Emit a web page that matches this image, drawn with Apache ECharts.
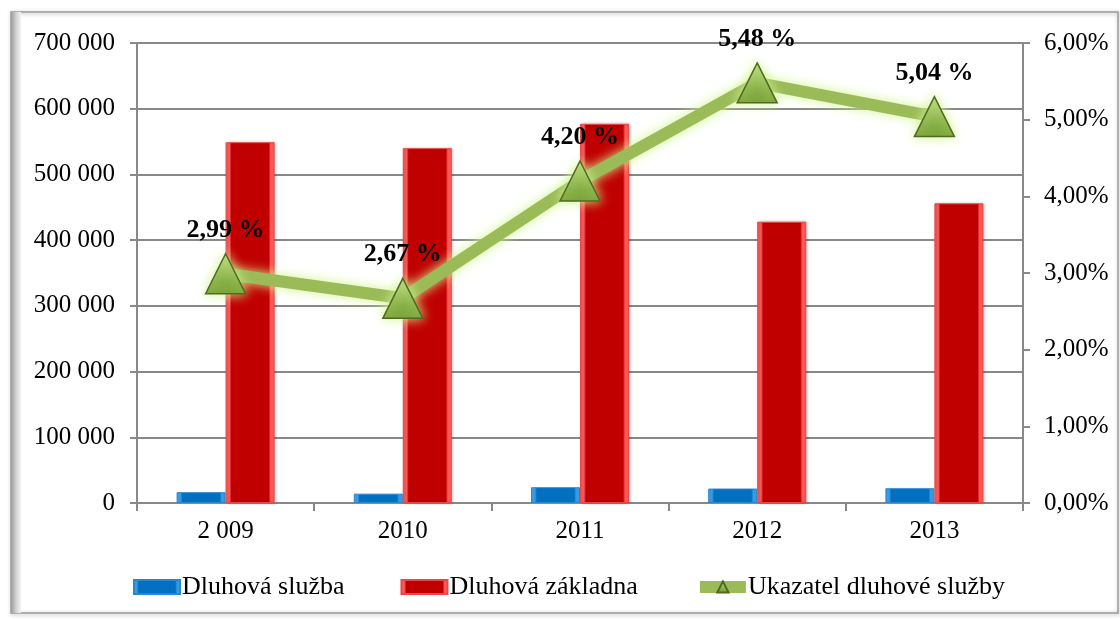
<!DOCTYPE html>
<html>
<head>
<meta charset="utf-8">
<script src="https://cdn.jsdelivr.net/npm/echarts@6/dist/echarts.min.js"></script>
<style>
  html, body { margin: 0; padding: 0; background: #fff; }
  #chart { width: 1120px; height: 619px; }
</style>
</head>
<body>
<div id="chart"></div>
<script>
// roky
const years = ['2 009', '2010', '2011', '2012', '2013'];
// Dluhová služba
const sluzba = [16500, 14200, 24000, 22000, 22500];
// Dluhová základna
const zakladna = [549000, 540000, 577000, 428000, 456000];
// Ukazatel dluhové služby (%)
const ukazatel = [2.99, 2.67, 4.20, 5.48, 5.04];

const serif = '"Liberation Serif", "DejaVu Serif", serif';

// bevel efekt pro sloupce
function bevel(edge, mid) {
  return new echarts.graphic.LinearGradient(0, 0, 1, 0, [
    { offset: 0, color: edge },
    { offset: 0.08, color: edge },
    { offset: 0.12, color: mid },
    { offset: 0.88, color: mid },
    { offset: 0.92, color: edge },
    { offset: 1, color: edge }
  ]);
}

let myChart = echarts.init(document.getElementById('chart'));
myChart.setOption({
  backgroundColor: '#fff',
  textStyle: { fontFamily: serif },
  graphic: [
    {
      type: 'rect',
      shape: { x: 11, y: 12, width: 1107, height: 601 },
      style: { fill: 'none', stroke: '#9a9a9a', lineWidth: 1.5,
        shadowBlur: 4, shadowColor: 'rgba(0,0,0,0.35)', shadowOffsetX: 1, shadowOffsetY: 1 },
      z: -10
    },
    {
      type: 'rect',
      shape: { x: 11, y: 12, width: 10, height: 601 },
      style: { fill: new echarts.graphic.LinearGradient(0, 0, 1, 0, [
        { offset: 0, color: '#9c9c9c' },
        { offset: 0.5, color: '#d0d0d0' },
        { offset: 1, color: '#f4f4f4' }
      ]) },
      z: -9
    }
  ],
  grid: { left: 137, right: 97, top: 43, bottom: 116 },
  legend: {
    bottom: 14,
    left: 128,
    itemWidth: 46,
    itemHeight: 14,
    itemGap: 56,
    textStyle: { fontFamily: serif, fontSize: 26, color: '#000', padding: [0, 0, 0, -3] },
    data: [
      { name: 'Dluhová služba', icon: 'rect' },
      { name: 'Dluhová základna', icon: 'rect' },
      { name: 'Ukazatel dluhové služby', lineStyle: { width: 12 } }
    ]
  },
  xAxis: {
    type: 'category',
    data: years,
    axisLine: { lineStyle: { color: '#888', width: 2 } },
    axisTick: { show: true, alignWithLabel: false, length: 8, lineStyle: { color: '#888', width: 2 } },
    axisLabel: { color: '#000', fontSize: 25, fontFamily: serif, margin: 16 }
  },
  yAxis: [
    {
      type: 'value',
      min: 0, max: 700000, interval: 100000,
      axisLine: { show: true, lineStyle: { color: '#888', width: 2 } },
      axisTick: { show: true, length: 7, lineStyle: { color: '#888', width: 2 } },
      splitLine: { lineStyle: { color: '#888', width: 2 } },
      axisLabel: {
        color: '#000', fontSize: 25, fontFamily: serif, margin: 22,
        formatter: v => v === 0 ? '0' : String(v).replace(/\B(?=(\d{3})+(?!\d))/g, ' ')
      }
    },
    {
      type: 'value',
      min: 0, max: 6, interval: 1,
      position: 'right',
      axisLine: { show: true, lineStyle: { color: '#888', width: 2 } },
      axisTick: { show: true, length: 7, lineStyle: { color: '#888', width: 2 } },
      splitLine: { show: false },
      axisLabel: {
        color: '#000', fontSize: 25, fontFamily: serif, margin: 21,
        formatter: v => v.toFixed(2).replace('.', ',') + '%'
      }
    }
  ],
  series: [
    {
      name: 'Dluhová služba',
      type: 'bar',
      data: sluzba,
      barWidth: 49,
      barGap: '0%',
      itemStyle: { color: bevel('#3a9ae0', '#0070c0'), borderColor: '#2b86d0', borderWidth: 1 }
    },
    {
      name: 'Dluhová základna',
      type: 'bar',
      data: zakladna,
      barWidth: 49,
      barGap: '0%',
      itemStyle: { color: bevel('#ff5a5a', '#c00000'), borderColor: '#e84848', borderWidth: 1,
        shadowBlur: 3, shadowColor: 'rgba(0,0,0,0.25)', shadowOffsetX: 1 }
    },
    {
      name: 'Ukazatel dluhové služby',
      type: 'line',
      yAxisIndex: 1,
      data: ukazatel,
      symbol: 'triangle',
      symbolSize: [40, 40],
      z: 5,
      lineStyle: { color: '#9bbb59', width: 12, shadowBlur: 12, shadowColor: '#d2f590' },
      itemStyle: {
        color: new echarts.graphic.LinearGradient(0, 0, 0, 1, [
          { offset: 0, color: '#b8d97a' },
          { offset: 1, color: '#6f9a2e' }
        ]),
        borderColor: '#4f6b22', borderWidth: 1.5,
        shadowBlur: 12, shadowColor: '#d2f590'
      },
      label: {
        show: true,
        position: 'top',
        distance: 10,
        color: '#000',
        fontSize: 26,
        fontWeight: 'bold',
        fontFamily: serif,
        formatter: p => p.value.toFixed(2).replace('.', ',') + ' %'
      }
    }
  ]
});
</script>
</body>
</html>
